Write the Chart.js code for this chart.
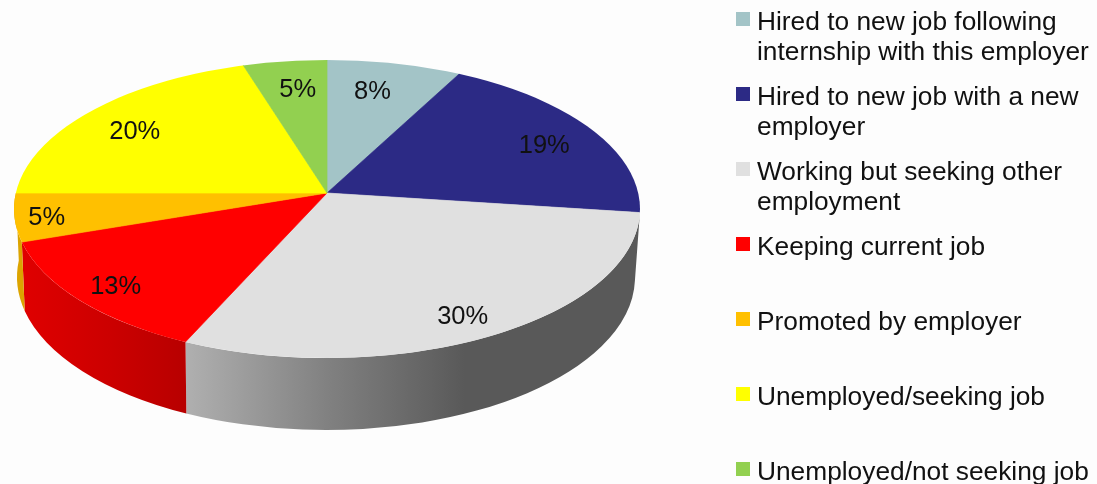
<!DOCTYPE html>
<html>
<head>
<meta charset="utf-8">
<script src="https://cdn.jsdelivr.net/npm/chart.js@4/dist/chart.umd.min.js"></script>
<style>
html,body{margin:0;padding:0;background:#fdfdfd;}
#wrap{position:relative;width:1097px;height:484px;overflow:hidden;}
canvas{position:absolute;left:0;top:0;}
#legend{position:absolute;left:736px;top:0;width:361px;font:26.3px/30px "Liberation Sans",Arial,sans-serif;color:#111;}
.item{position:absolute;left:0;width:361px;}
.swatch{position:absolute;left:0;top:6px;width:14px;height:14px;}
.txt{position:absolute;left:21px;top:0;width:340px;}
</style>
</head>
<body>
<div id="wrap"><canvas id="c" width="1097" height="484"></canvas><div id="legend"></div></div>
<script>
const categories = [
  'Hired to new job following internship with this employer',
  'Hired to new job with a new employer',
  'Working but seeking other employment',
  'Keeping current job',
  'Promoted by employer',
  'Unemployed/seeking job',
  'Unemployed/not seeking job'
];
const percentages = [8, 19, 30, 13, 5, 20, 5];
const sliceColors = ['#a3c4c7', '#2c2a85', '#e0e0e0', '#ff0000', '#ffc000', '#ffff00', '#92d050'];
const wallStops = [null, null,
  [[185, '#b0b0b0'], [330, '#808080'], [465, '#595959'], [640, '#595959']],
  [[20, '#e00000'], [110, '#cc0000'], [185, '#b80000']],
  [[14, '#dca400'], [24, '#dca400']],
  null, null];
const labelShiftX = [-9, 22, 0, 0, -2, -15, 5];
const labelShiftY = [4, 2, 2, 2, 3, 3, 4];

// Perspective layout of the tilted disc
const apex = {x: 327, y: 193};
const topRim = {x: 327, y: 209, rx: 313, ry: 149};
const baseRim = {x: 326, y: 277, rx: 309, ry: 153};
const spreadX = 313, spreadY = 155, overscan = 1.2;

function rayToParam(theta) {
  const dy = Math.sin(theta) * spreadY;
  const dx = Math.cos(theta) * spreadX;
  const ax = (apex.x - topRim.x) / topRim.rx, ay = (apex.y - topRim.y) / topRim.ry;
  const bx = dx / topRim.rx, by = dy / topRim.ry;
  const A = bx * bx + by * by, B = 2 * (ax * bx + ay * by), C = ax * ax + ay * ay - 1;
  const l = (-B + Math.sqrt(B * B - 4 * A * C)) / (2 * A);
  return Math.atan2(ay + by * l, ax + bx * l);
}

const discPlugin = {
  id: 'disc',
  beforeDatasetsDraw(chart) {
    const ctx = chart.ctx, meta = chart.getDatasetMeta(0);
    const arcs = meta.data;
    // side walls
    arcs.forEach((arc, i) => {
      if (!wallStops[i]) return;
      const p = arc.getProps(['startAngle', 'endAngle']);
      let t1 = rayToParam(p.startAngle), t2 = rayToParam(p.endAngle);
      while (t1 < 0) t1 += Math.PI * 2;
      while (t2 <= t1) t2 += Math.PI * 2;
      const stops = wallStops[i];
      const x0 = stops[0][0], x1 = stops[stops.length - 1][0];
      const g = ctx.createLinearGradient(x0, 0, x1, 0);
      stops.forEach(s => g.addColorStop((s[0] - x0) / (x1 - x0), s[1]));
      ctx.save();
      ctx.beginPath();
      ctx.ellipse(topRim.x, topRim.y, topRim.rx, topRim.ry, 0, t1, t2, false);
      ctx.ellipse(baseRim.x, baseRim.y, baseRim.rx, baseRim.ry, 0, t2, t1, true);
      ctx.closePath();
      ctx.fillStyle = g;
      ctx.fill();
      ctx.restore();
    });
    // top face: library arcs under an affine tilt about the apex, trimmed by the rim
    const a0 = arcs[0];
    const k = overscan / a0.outerRadius;
    ctx.save();
    ctx.beginPath();
    ctx.ellipse(topRim.x, topRim.y, topRim.rx, topRim.ry, 0, 0, Math.PI * 2);
    ctx.clip();
    ctx.translate(apex.x, apex.y);
    ctx.scale(spreadX * k, spreadY * k);
    ctx.translate(-a0.x, -a0.y);
    meta.controller.draw();
    ctx.restore();
    return false;
  },
  afterDraw(chart) {
    const ctx = chart.ctx;
    ctx.save();
    ctx.font = '25.5px "Liberation Sans", Arial, sans-serif';
    ctx.fillStyle = '#111';
    ctx.textAlign = 'center';
    ctx.textBaseline = 'middle';
    chart.getDatasetMeta(0).data.forEach((arc, i) => {
      const p = arc.getProps(['startAngle', 'endAngle']);
      const m = (p.startAngle + p.endAngle) / 2;
      const f = Math.sin(m) < 0 ? 0.7 : 0.9;
      const x = apex.x + Math.cos(m) * spreadX * f + labelShiftX[i];
      const y = apex.y + Math.sin(m) * spreadY * f + labelShiftY[i];
      ctx.fillText(percentages[i] + '%', x, y);
    });
    ctx.restore();
  }
};

new Chart(document.getElementById('c'), {
  type: 'pie',
  data: {
    labels: categories,
    datasets: [{data: percentages, backgroundColor: sliceColors, borderColor: sliceColors, borderWidth: 0.6}]
  },
  options: {
    responsive: false,
    animation: false,
    layout: {padding: {right: 443}},
    plugins: {legend: {display: false}, tooltip: {enabled: false}}
  },
  plugins: [discPlugin]
});

const legend = document.getElementById('legend');
categories.forEach((name, i) => {
  const item = document.createElement('div');
  item.className = 'item';
  item.style.top = (6 + i * 75) + 'px';
  const sw = document.createElement('div');
  sw.className = 'swatch';
  sw.style.background = sliceColors[i];
  const t = document.createElement('div');
  t.className = 'txt';
  t.textContent = name;
  item.appendChild(sw);
  item.appendChild(t);
  legend.appendChild(item);
});
</script>
</body>
</html>
